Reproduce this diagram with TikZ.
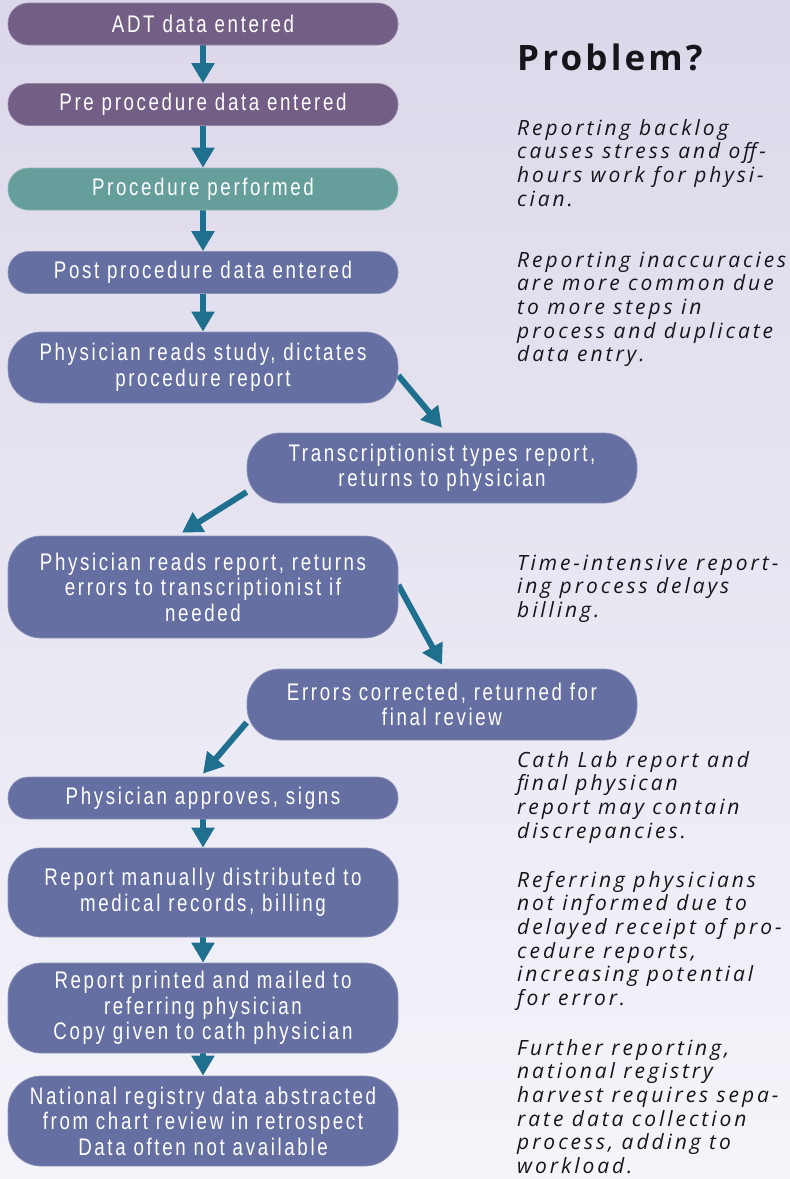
\documentclass[tikz,border=0pt]{standalone}
\usepackage{fontspec}
\usepackage{xcolor}
\usetikzlibrary{arrows.meta}
\newfontfamily\boxfont[FakeStretch=0.78,LetterSpace=11]{Liberation Sans}
\newfontfamily\notefont[LetterSpace=14]{Open Sans}
\newfontfamily\headfont[LetterSpace=9]{Open Sans}
\definecolor{bgtop}{RGB}{220,216,234}
\definecolor{bgbot}{RGB}{245,244,250}
\definecolor{plum}{RGB}{115,94,134}
\definecolor{sea}{RGB}{101,158,155}
\definecolor{slate}{RGB}{102,111,162}
\definecolor{flow}{RGB}{31,111,142}
\definecolor{ink}{RGB}{22,22,26}
\pgfdeclarelayer{back}
\pgfsetlayers{back,main}
\tikzset{
  stage/.style={rectangle, fill=slate, draw=slate!75!white, line width=0.7pt,
    text=white, minimum width=390pt, inner sep=0pt, align=center,
    font={\boxfont\fontsize{24}{25.5}\selectfont}},
  pill/.style={stage, minimum height=42pt, rounded corners=20.5pt},
  block/.style={stage, rounded corners=33pt},
  flowline/.style={draw=flow, line width=6pt, -{Triangle[length=20pt,width=22pt]}},
  % base = baseline of the last line
  note/.style={anchor=base west, inner sep=0pt, align=left, text=ink,
    font={\notefont\itshape\fontsize{21}{23.7}\selectfont}},
}
\begin{document}
\begin{tikzpicture}[x=1pt,y=-1pt]
  \useasboundingbox (0,0) rectangle (790,1179);
  \begin{pgfonlayer}{back}
    \shade[top color=bgtop, bottom color=bgbot] (0,0) rectangle (790,1179);
  \end{pgfonlayer}

  % left column
  \node[pill, fill=plum, draw=plum!75!white] (adt) at (203,24) {ADT data entered};
  \node[pill, fill=plum, draw=plum!75!white] (pre) at (203,104.5) {Pre procedure data entered};
  \node[pill, fill=sea, draw=sea!75!white] (perf) at (203,189) {Procedure performed};
  \node[pill] (post) at (203,272.5) {Post procedure data entered};
  \node[block, minimum height=71pt] (study) at (203,367.5) {Physician reads study, dictates\\procedure report};
  \node[block, minimum height=70pt] (trans) at (442,468) {Transcriptionist types report,\\returns to physician};
  \node[block, minimum height=102pt] (readrep) at (203,587) {Physician reads report, returns\\errors to transcriptionist if\\needed};
  \node[block, minimum height=71pt] (errors) at (442,704.5) {Errors corrected, returned for\\final review};
  \node[pill] (approve) at (203,798) {Physician approves, signs};
  \node[block, minimum height=89pt] (distrib) at (203,892.5) {Report manually distributed to\\medical records, billing};
  \node[block, minimum height=90pt] (printed) at (203,1008) {Report printed and mailed to\\referring physician\\Copy given to cath physician};
  \node[block, minimum height=90pt] (registry) at (203,1121) {National registry data abstracted\\from chart review in retrospect\\Data often not available};

  % connectors
  \begin{pgfonlayer}{back}
    \foreach \a/\b in {adt/pre, pre/perf, perf/post, post/study, approve/distrib, distrib/printed, printed/registry}
      \draw[flowline] (\a.south) -- (\b.north);
    \draw[flowline] ([yshift=-8pt]study.east) -- ([yshift=5pt]trans.north);
    \draw[flowline] ([yshift=-24pt]trans.west) -- ([xshift=-21pt,yshift=3pt]readrep.north);
    \draw[flowline] ([yshift=2pt]readrep.east) -- ([yshift=4pt]errors.north);
    \draw[flowline] ([yshift=-18pt]errors.west) -- ([yshift=3pt]approve.north);
  \end{pgfonlayer}

  % problems
  \node[anchor=base west, inner sep=0pt, text=ink, font={\headfont\bfseries\fontsize{35}{40}\selectfont}] (head) at (517,70) {Problem?};
  \node[note] (p1) at (517,206.1) {Reporting backlog\\causes stress and off-\\hours work for physi-\\cian.};
  \node[note] (p2) at (517,361.8) {Reporting inaccuracies\\are more common due\\to more steps in\\process and duplicate\\data entry.};
  \node[note] (p3) at (517,617.4) {Time-intensive report-\\ing process delays\\billing.};
  \node[note] (p4) at (517,838.1) {Cath Lab report and\\final physican\\report may contain\\discrepancies.};
  \node[note] (p5) at (517,1005.5) {Referring physicians\\not informed due to\\delayed receipt of pro-\\cedure reports,\\increasing potential\\for error.};
  \node[note] (p6) at (517,1173.5) {Further reporting,\\national registry\\harvest requires sepa-\\rate data collection\\process, adding to\\workload.};
\end{tikzpicture}
\end{document}
